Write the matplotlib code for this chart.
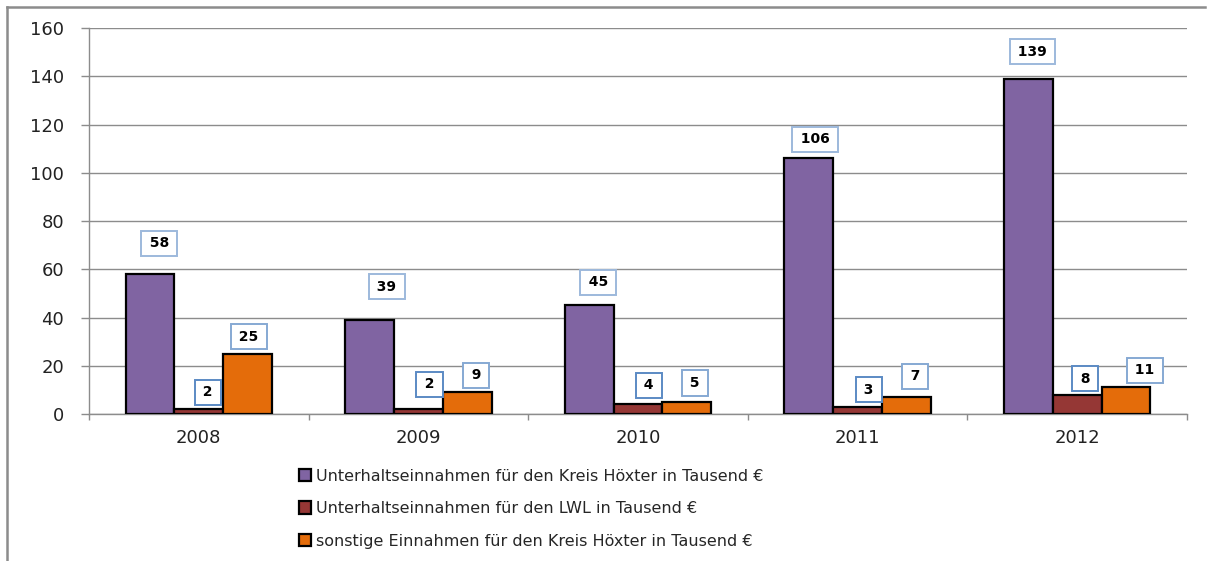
import numpy as np
import matplotlib.pyplot as plt
from matplotlib.lines import Line2D

years = ['2008', '2009', '2010', '2011', '2012']
kreis_hoexter = [58, 39, 45, 106, 139]
lwl = [2, 2, 4, 3, 8]
sonstige = [25, 9, 5, 7, 11]

series_names = ['Unterhaltseinnahmen für den Kreis Höxter in Tausend €',
                'Unterhaltseinnahmen für den LWL in Tausend €',
                'sonstige Einnahmen für den Kreis Höxter in Tausend €']
colors = ['#8064A2', '#953735', '#E46C0A']
box_edges = ['#9DB9DC', '#5B8AC4', '#86A9D3']

# label box offsets (pixels) relative to bar top centre
label_dx = [[9, 17, 9, 6, 4], [9, 11, 11, 11, 8], [1, 9, 8, 9, 19]]
label_dy = [[31, 33, 23, 19, 27], [17, 25, 19, 17, 16], [17, 17, 19, 21, 17]]

fig = plt.figure(figsize=(12.11, 5.61), dpi=100)
ax = fig.add_axes([0.0735, 0.262, 0.9067, 0.688])

x = np.arange(len(years))
w = 0.222
all_series = [kreis_hoexter, lwl, sonstige]
for i, vals in enumerate(all_series):
    pos = x + (i - 1) * w
    ax.bar(pos, vals, width=w, color=colors[i], edgecolor='black', linewidth=1.6,
           label=series_names[i], zorder=3)
    for j, v in enumerate(vals):
        ax.annotate('\u2009%d\u2009' % v, xy=(pos[j], v), xytext=(label_dx[i][j], label_dy[i][j]),
                    textcoords='offset pixels', ha='center', va='center',
                    fontsize=10, fontweight='bold', color='black', zorder=5,
                    bbox=dict(boxstyle='square,pad=0.4', fc='white', ec=box_edges[i], lw=1.4))

ax.set_xlim(-0.5, len(years) - 0.5)
ax.set_ylim(0, 160)
ax.set_yticks(range(0, 161, 20))
ax.set_xticks(x)
ax.set_xticklabels(years)
ax.set_xticks(np.arange(-0.5, len(years), 1), minor=True)
ax.tick_params(axis='x', which='major', length=0, pad=10.5, labelsize=13, labelcolor='#222222')
ax.tick_params(axis='x', which='minor', length=4, color='#8c8c8c', width=1)
ax.tick_params(axis='y', length=6, color='#8c8c8c', width=1, pad=12, labelsize=13,
               labelcolor='#222222')
ax.yaxis.grid(True, color='#8c8c8c', linewidth=1, zorder=0)
ax.set_axisbelow(True)
for s in ['top', 'right']:
    ax.spines[s].set_visible(False)
for s in ['left', 'bottom']:
    ax.spines[s].set_color('#8c8c8c')
    ax.spines[s].set_linewidth(1)

fig.legend(loc='upper left', bbox_to_anchor=(0.240, 0.179), frameon=False, fontsize=11.5,
           handlelength=0.8, handleheight=0.8, handletextpad=0.3, labelspacing=1.1,
           borderpad=0, labelcolor='#262626')

# outer frame (left and top)
fig.add_artist(Line2D([0.0058, 0.0058], [0, 0.9875], transform=fig.transFigure,
                      color='#8c8c8c', lw=1.8))
fig.add_artist(Line2D([0.0058, 0.995], [0.9875, 0.9875], transform=fig.transFigure,
                      color='#8c8c8c', lw=1.8))

fig.savefig('out.png', dpi=100)
